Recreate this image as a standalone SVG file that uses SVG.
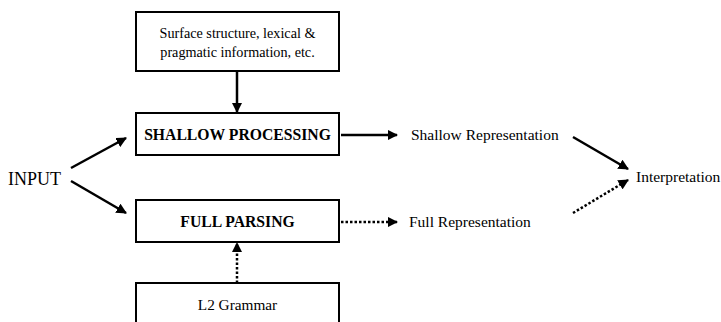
<svg xmlns="http://www.w3.org/2000/svg" width="721" height="322" viewBox="0 0 721 322">
<style>
text{font-family:"Liberation Serif","Times New Roman",serif;fill:#000}
.box{fill:#fff;stroke:#000;stroke-width:2}
.b{font-weight:bold;font-size:15.7px}
.lbl{font-size:15.5px}
.solid{stroke:#000;stroke-width:2.5;fill:none}
.dot{stroke:#000;stroke-width:2.5;fill:none;stroke-dasharray:2.5 2}
</style>
<defs>
<marker id="ah" viewBox="0 0 10 10" refX="9" refY="5" markerWidth="4.2" markerHeight="4.2" orient="auto" markerUnits="strokeWidth">
<path d="M0,0 L10,5 L0,10 z" fill="#000"/>
</marker>
</defs>
<rect width="721" height="322" fill="#fff"/>
<g id="surface">
<rect class="box" x="136" y="12" width="203" height="59"/>
<text x="237.5" y="38" font-size="14.2" text-anchor="middle">Surface structure, lexical &amp;</text>
<text x="237.5" y="57" font-size="14.2" text-anchor="middle">pragmatic information, etc.</text>
</g>
<g id="shallow">
<rect class="box" x="136" y="113" width="203" height="42"/>
<text class="b" x="237.5" y="140" text-anchor="middle">SHALLOW PROCESSING</text>
</g>
<g id="full">
<rect class="box" x="136" y="200" width="203" height="42"/>
<text class="b" x="237.5" y="227" text-anchor="middle">FULL PARSING</text>
</g>
<g id="grammar">
<rect class="box" x="136" y="283" width="203" height="50"/>
<text x="237.5" y="310" font-size="15.3" text-anchor="middle">L2 Grammar</text>
</g>
<g id="input"><text x="8" y="185" font-size="18">INPUT</text></g>
<g id="shallowrep"><text class="lbl" x="411" y="140">Shallow Representation</text></g>
<g id="fullrep"><text class="lbl" x="409" y="227">Full Representation</text></g>
<g id="interp"><text class="lbl" x="636" y="182">Interpretation</text></g>
<g id="connectors">
<line class="solid" x1="237" y1="71" x2="237" y2="112" marker-end="url(#ah)"/>
<line class="dot" x1="237" y1="283" x2="237" y2="243" marker-end="url(#ah)"/>
<line class="solid" x1="71" y1="168" x2="126" y2="138" marker-end="url(#ah)"/>
<line class="solid" x1="71" y1="181" x2="126" y2="213" marker-end="url(#ah)"/>
<line class="solid" x1="341" y1="135" x2="397" y2="135" marker-end="url(#ah)"/>
<line class="dot" x1="341" y1="222" x2="397" y2="222" marker-end="url(#ah)"/>
<line class="solid" x1="573" y1="137" x2="628" y2="169" marker-end="url(#ah)"/>
<line class="dot" x1="573" y1="213" x2="628" y2="180" marker-end="url(#ah)"/>
</g>
</svg>
